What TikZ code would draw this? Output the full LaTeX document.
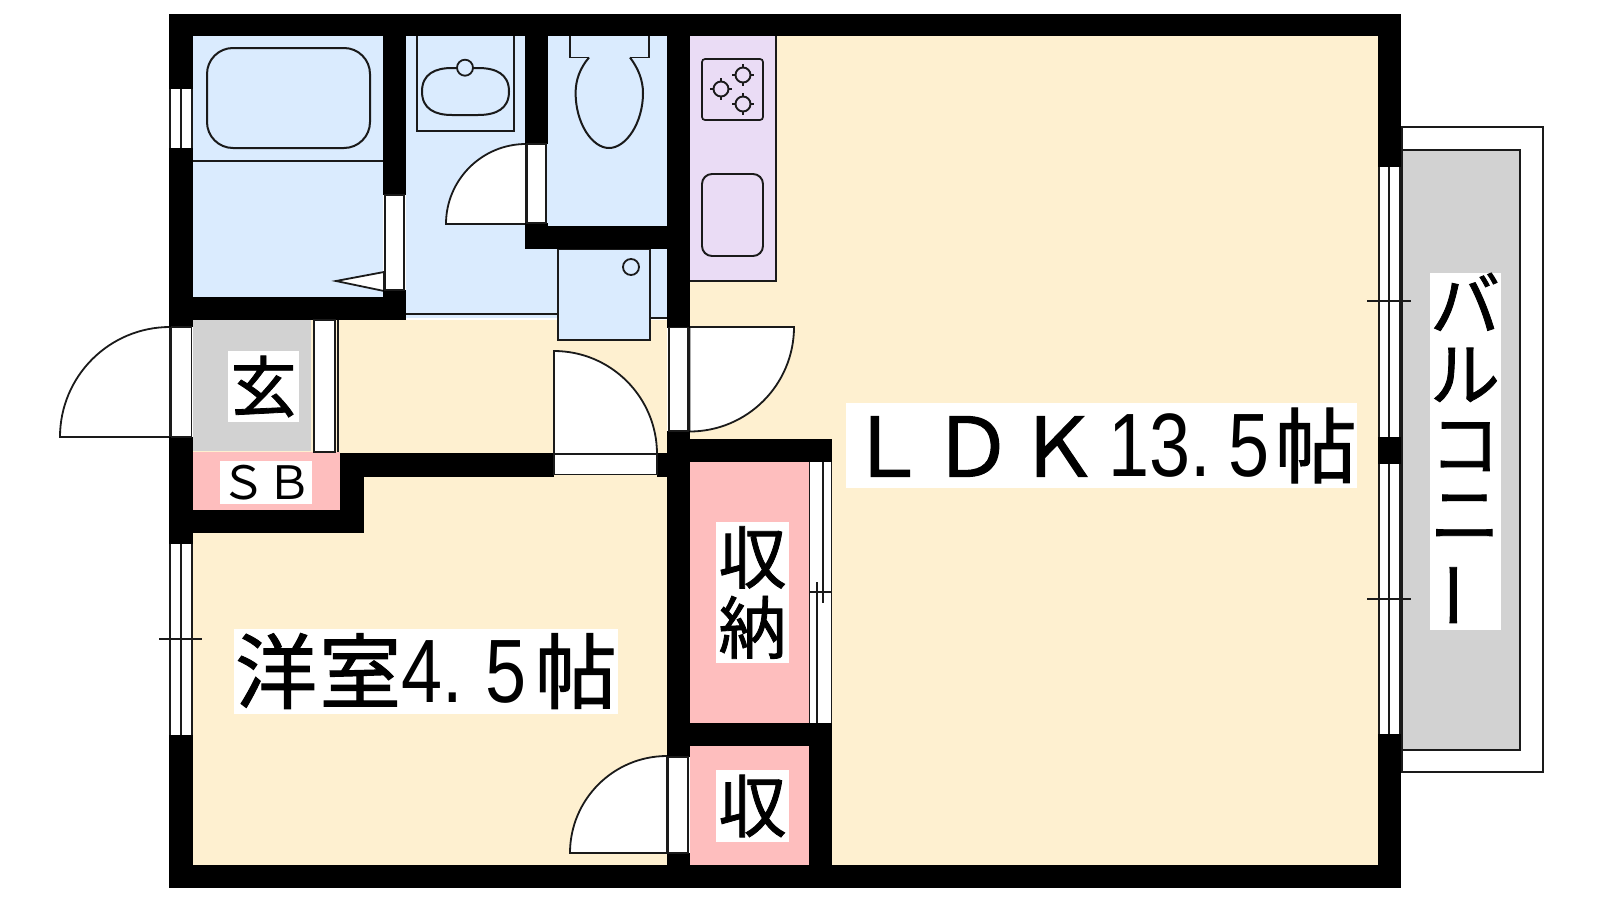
\documentclass[tikz,border=0pt]{standalone}
\usepackage{fontspec}
\usepackage{graphicx}
\newfontfamily\jp[FakeBold=1.2]{Noto Sans CJK JP}
\newfontfamily\jpl{Noto Sans CJK JP}
\newfontfamily\dg[FakeStretch=0.82]{Liberation Sans}
\definecolor{floor}{HTML}{FEF0D0}
\definecolor{wet}{HTML}{DAEBFE}
\definecolor{pinkf}{HTML}{FEBEBE}
\definecolor{grayf}{HTML}{D2D2D2}
\definecolor{kit}{HTML}{EADCF5}
\definecolor{ink}{HTML}{1A1A1A}
\newcommand{\fs}[1]{\fontsize{#1}{#1}\selectfont}
\tikzset{
 wall/.style={fill=black,draw=none},
 ln/.style={draw=ink,line width=1.5pt},
 win/.style={draw=ink,line width=1.9pt},
 fix/.style={draw=ink,line width=1.7pt,fill=wet},
 leaf/.style={draw=ink,line width=1.8pt,fill=white},
 frame/.style={draw=ink,line width=1.5pt,fill=white},
 lab/.style={fill=white,inner sep=0pt,text=black,align=center},
}
\begin{document}
\begin{tikzpicture}[x=1pt,y=-1pt]
\useasboundingbox (0,0) rectangle (1600,900);
\fill[white] (0,0) rectangle (1600,900);
% balcony
\draw[ln,fill=white] (1402,127) rectangle (1543,772);
\draw[ln,fill=grayf] (1402,150) rectangle (1520,750);
% floors
\fill[floor] (690,36) rectangle (1378,865);
\fill[floor] (193,320) rectangle (667,865);
\fill[wet] (193,36) rectangle (383,297);
\fill[wet] (406,36) rectangle (667,318);
\fill[kit] (690,36) rectangle (776,281);
\draw[ln] (690,281) -- (776,281) -- (776,36);
\fill[grayf] (193,320) rectangle (311,451);
\fill[pinkf] (193,452) rectangle (340,510);
\fill[pinkf] (690,462) rectangle (809,723);
\fill[pinkf] (690,746) rectangle (809,865);
\draw[ln] (406,314) -- (558,314);
\draw[ln] (650,318) -- (667,318);
% bath
\draw[ln,line width=2pt,rounded corners=26pt] (207,48) rectangle (370,148);
\draw[ln] (193,161) -- (383,161);
\draw[leaf] (384,272) -- (336,281) -- (384,291) -- cycle;
% sink
\draw[ln] (417,36) -- (417,131) -- (514,131) -- (514,36);
\draw[ln,line width=2pt] (422,91.5) .. controls (422,74) and (435,68) .. (452,68) -- (478,68) .. controls (496,68) and (509,74) .. (509,91.5) .. controls (509,109) and (496,115) .. (478,115) -- (452,115) .. controls (435,115) and (422,109) .. (422,91.5) -- cycle;
\draw[ln,fill=wet,line width=1.8pt] (465,67.7) circle (8);
% toilet
\draw[ln] (570,36) -- (570,57.5) -- (649,57.5) -- (649,36);
\fill[wet] (589,56) -- (630,56) -- (630,60) -- (589,60) -- cycle;
\draw[ln,line width=2pt] (589,57.5) .. controls (580,68) and (575.6,80) .. (575.6,93) .. controls (575.6,123) and (592,148) .. (609,148) .. controls (626,148) and (643,123) .. (643,93) .. controls (643,80) and (638,68) .. (630,57.5);
% washing machine
\draw[fix] (558,249) rectangle (650,340);
\draw[ln,line width=1.8pt] (631,267) circle (8);
% stove and kitchen sink
\draw[ln,line width=1.7pt,rounded corners=3pt] (702,59) rectangle (763,120);
\foreach \cx/\cy in {743/75,721/89,743/104}{
 \draw[ln,line width=1.9pt] (\cx,\cy) circle (7.5);
 \draw[ln,line width=1.7pt] (\cx-11,\cy) -- (\cx-7,\cy) (\cx+7,\cy) -- (\cx+11,\cy) (\cx,\cy-11) -- (\cx,\cy-7) (\cx,\cy+7) -- (\cx,\cy+11);
}
\draw[ln,line width=1.9pt,rounded corners=10pt] (702,174) rectangle (763,256);
% doors
\draw[leaf] (526,144) arc (-90:-180:80) -- (526,224) -- cycle;
\draw[leaf] (170,327) arc (-90:-180:110) -- (170,437) -- cycle;
\draw[leaf] (554,351) arc (-90:0:103) -- (554,454) -- cycle;
\draw[leaf] (689.5,327) -- (794,327) arc (0:90:104.5) -- cycle;
\draw[leaf] (667,756) arc (-90:-180:97) -- (667,853) -- cycle;
% walls
\fill[wall] (168.5,13.5) rectangle (1401,36);
\fill[wall] (168.5,865) rectangle (1401,888);
\fill[wall] (168.5,13.5) rectangle (193,89);
\fill[wall] (168.5,148) rectangle (193,327);
\fill[wall] (168.5,437) rectangle (193,544);
\fill[wall] (168.5,735) rectangle (193,888);
\fill[wall] (1378,13.5) rectangle (1401,167);
\fill[wall] (1378,437) rectangle (1401,464);
\fill[wall] (1378,734) rectangle (1401,888);
\fill[wall] (383,36) rectangle (406,195);
\fill[wall] (383,290) rectangle (406,319);
\fill[wall] (168.5,297) rectangle (406,319.5);
\fill[wall] (525,36) rectangle (548,144);
\fill[wall] (525,223) rectangle (548,249);
\fill[wall] (525,226) rectangle (667,249);
\fill[wall] (667,36) rectangle (690,327.5);
\fill[wall] (667,431) rectangle (690,757);
\fill[wall] (667,853) rectangle (690,865);
\fill[wall] (667,439) rectangle (832,462);
\fill[wall] (667,723) rectangle (832,746);
\fill[wall] (809,723) rectangle (832,865);
\fill[wall] (340,453.3) rectangle (554,476.7);
\fill[wall] (340,453.3) rectangle (364,532.7);
\fill[wall] (168.5,510) rectangle (364,532.7);
\fill[wall] (657,453.3) rectangle (667,476.7);
% door frames
\draw[frame] (385,195) rectangle (404,290);
\draw[frame] (527,144) rectangle (546,223);
\draw[frame] (171.5,327) rectangle (191.5,437);
\draw[frame] (314,320) rectangle (335,452);
\draw[ln] (338,320) -- (338,452);
\draw[frame] (554,454) rectangle (657,474.7);
\draw[frame] (669,327.5) rectangle (688,431);
\draw[frame] (668,757) rectangle (688,853);
% windows
\foreach \a/\b in {89/148,544/735}{
 \fill[white] (168.5,\a) rectangle (193,\b);
 \draw[win] (170,\a) -- (170,\b) (181,\a) -- (181,\b) (192,\a) -- (192,\b);
}
\draw[ln] (159,639) -- (202,639);
\foreach \a/\b in {167/437,464/734}{
 \fill[white] (1378,\a) rectangle (1401,\b);
 \draw[win] (1379,\a) -- (1379,\b) (1389,\a) -- (1389,\b) (1400,\a) -- (1400,\b);
}
\draw[ln] (1367,301) -- (1411,301) (1367,599) -- (1411,599);
\fill[white] (809,462) rectangle (832,723);
\draw[ln] (809.5,462) -- (809.5,723) (831.5,462) -- (831.5,723) (823,462) -- (823,603) (817,582) -- (817,723) (809.5,592) -- (831.5,592);
% labels
\node[lab,font=\jp\fs{82},minimum width=511pt,minimum height=85pt] (ldk) at (1101.5,445.5) {Ｌ\hspace{3.5pt}Ｄ\hspace{3.5pt}Ｋ\hspace{9pt}{\dg\fs{90}13.}\hspace{18pt}{\dg\fs{90}5}\hspace{5pt}帖};
\node[lab,font=\jp\fs{82},minimum width=384pt,minimum height=85pt] (yo) at (426,671) {洋\hspace{2pt}室{\dg\fs{90}4.}\hspace{23pt}{\dg\fs{90}5}\hspace{8pt}帖};
\node[lab,font=\jp\fs{66},minimum width=71pt,minimum height=71pt] (gen) at (263.5,386.5) {玄};
\node[lab,font=\jpl\fs{46},minimum width=86pt,minimum height=43pt] (sb) at (266,482.5) {ＳＢ};
\node[lab,font=\jp\fs{68},minimum width=73pt,minimum height=141pt] (syn) at (752.5,592.5) {収\\[2pt]納};
\node[lab,font=\jp\fs{68},minimum width=73pt,minimum height=72pt] (sy) at (752.5,806) {収};
\node[lab,font=\jp\fs{70},minimum width=71pt,minimum height=355pt] (bal) at (1465,451.5) {バ\\ル\\コ\\ニ\\\rotatebox[origin=c]{90}{ー}};
\end{tikzpicture}
\end{document}
